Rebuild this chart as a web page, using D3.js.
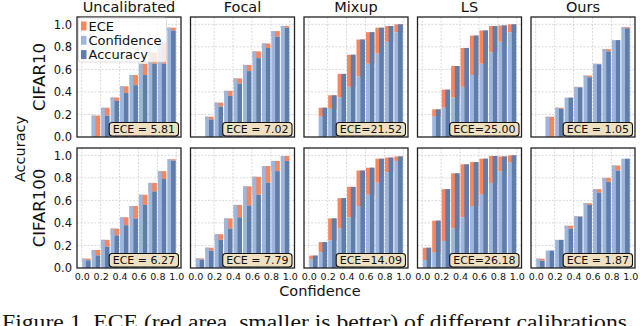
<!DOCTYPE html>
<html>
<head>
<meta charset="utf-8">
<script src="https://cdn.jsdelivr.net/npm/d3@7"></script>
<style>
  body { margin: 0; background: #fff; }
  svg { display: block; font-family: "DejaVu Sans", sans-serif; }
</style>
</head>
<body>
<svg id="chart" width="640" height="326"></svg>
<script>
// column titles and row labels
const methods = ['Uncalibrated', 'Focal', 'Mixup', 'LS', 'Ours'];
const datasets = ['CIFAR10', 'CIFAR100'];
// lower edge of each confidence bin
const bins = [0.0, 0.1, 0.2, 0.3, 0.4, 0.5, 0.6, 0.7, 0.8, 0.9];
const ticks = [0.0, 0.2, 0.4, 0.6, 0.8, 1.0];

// CIFAR10: per method, avg confidence and accuracy per bin (null = empty bin)
const c10Conf = [
  [null, 0.19, 0.26, 0.35, 0.45, 0.55, 0.65, 0.75, 0.84, 0.97],
  [null, 0.18, 0.305, 0.41, 0.52, 0.64, 0.76, 0.83, 0.94, 0.985],
  [null, 0.18, 0.25, 0.35, 0.445, 0.54, 0.65, 0.74, 0.845, 0.93],
  [null, 0.18, 0.26, 0.35, 0.445, 0.55, 0.65, 0.75, 0.845, 0.93],
  [null, 0.18, 0.26, 0.35, 0.445, 0.545, 0.65, 0.78, 0.86, 0.975]
];
const c10Acc = [
  [null, 0.0, 0.19, 0.32, 0.39, 0.46, 0.55, 0.65, 0.65, 0.945],
  [null, 0.155, 0.27, 0.365, 0.475, 0.585, 0.70, 0.79, 0.89, 0.97],
  [null, 0.26, 0.37, 0.56, 0.73, 0.865, 0.93, 0.97, 0.985, 1.0],
  [null, 0.245, 0.42, 0.63, 0.79, 0.90, 0.945, 0.985, 0.99, 1.0],
  [null, 0.0, 0.25, 0.35, 0.44, 0.53, 0.645, 0.76, 0.86, 0.965]
];
// CIFAR100
const c100Conf = [
  [0.083, 0.16, 0.25, 0.35, 0.45, 0.55, 0.65, 0.755, 0.86, 0.965],
  [0.085, 0.18, 0.30, 0.44, 0.56, 0.725, 0.81, 0.905, 0.95, 0.994],
  [0.08, 0.14, 0.245, 0.35, 0.45, 0.55, 0.65, 0.757, 0.85, 0.95],
  [0.07, 0.135, 0.24, 0.35, 0.45, 0.55, 0.65, 0.755, 0.86, 0.935],
  [0.083, 0.155, 0.25, 0.375, 0.46, 0.575, 0.70, 0.80, 0.91, 0.97]
];
const c100Acc = [
  [0.068, 0.112, 0.19, 0.29, 0.38, 0.44, 0.56, 0.68, 0.79, 0.953],
  [0.075, 0.155, 0.25, 0.35, 0.45, 0.555, 0.65, 0.757, 0.86, 0.95],
  [0.11, 0.23, 0.44, 0.62, 0.72, 0.865, 0.89, 0.97, 0.98, 0.99],
  [0.18, 0.42, 0.70, 0.84, 0.92, 0.94, 0.97, 0.994, 0.99, 1.0],
  [0.065, 0.155, 0.25, 0.35, 0.455, 0.56, 0.67, 0.765, 0.865, 0.97]
];
const c10Ece = ['ECE = 5.81', 'ECE = 7.02', 'ECE=21.52', 'ECE=25.00', 'ECE = 1.05'];
const c100Ece = ['ECE = 6.27', 'ECE = 7.79', 'ECE=14.09', 'ECE=26.18', 'ECE = 1.87'];

const legendItems = ['ECE', 'Confidence', 'Accuracy'];
const caption = 'Figure 1. ECE (red area, smaller is better) of different calibrations';

const colors = {gap: '#f4875f', conf: '#9db6dd', acc: '#5f7dab'};

const svg = d3.select('#chart');

const pw = 104,
  ph = 120,
  left0 = 77,
  top0 = 17,
  colStep = 113.5,
  rowStep = 131;

const x = d3.scaleLinear().domain([-0.05, 1.05]).range([0, pw]);
const y = d3.scaleLinear().domain([0, 1.065]).range([ph, 0]);

const confRows = [c10Conf, c100Conf],
  accRows = [c10Acc, c100Acc],
  eceRows = [c10Ece, c100Ece];

datasets.forEach((ds, r) => {
  methods.forEach((m, c) => {
    const g = svg.append('g')
      .attr('transform', `translate(${left0 + c * colStep},${top0 + r * rowStep})`);
    drawPanel(g, confRows[r][c], accRows[r][c], eceRows[r][c], r, c);
  });
});

function drawPanel(g, conf, acc, eceText, r, c) {
  // grid
  g.selectAll('.gx').data(ticks).enter().append('line')
    .attr('x1', d => x(d)).attr('x2', d => x(d))
    .attr('y1', 0).attr('y2', ph)
    .attr('stroke', '#cfcfcf').attr('stroke-width', 0.8)
    .attr('stroke-dasharray', '2,1.5');
  g.selectAll('.gy').data(ticks.slice(1)).enter().append('line')
    .attr('x1', 0).attr('x2', pw)
    .attr('y1', d => y(d)).attr('y2', d => y(d))
    .attr('stroke', '#cfcfcf').attr('stroke-width', 0.8)
    .attr('stroke-dasharray', '2,1.5');

  const data = bins.map((b, i) => ({b, conf: conf[i], acc: acc[i]}))
    .filter(d => d.conf !== null);

  const bx0 = d => x(d.b) + 0.5,
    bx1 = d => x(d.b + 0.1) - 0.5,
    split = d => bx0(d) + 0.44 * (bx1(d) - bx0(d));

  const bar = g.selectAll('.bin').data(data).enter().append('g');

  // gap between confidence and accuracy, full bin width, underneath
  bar.append('rect')
    .attr('x', bx0)
    .attr('width', d => bx1(d) - bx0(d))
    .attr('y', d => y(Math.max(d.conf, d.acc)))
    .attr('height', d => y(Math.min(d.conf, d.acc)) - y(Math.max(d.conf, d.acc)))
    .attr('fill', colors.gap);

  bar.append('rect')
    .attr('x', bx0)
    .attr('width', d => split(d) - bx0(d))
    .attr('y', d => y(d.conf))
    .attr('height', d => y(0) - y(d.conf))
    .attr('fill', colors.conf);

  bar.append('rect')
    .attr('x', split)
    .attr('width', d => bx1(d) - split(d))
    .attr('y', d => y(d.acc))
    .attr('height', d => y(0) - y(d.acc))
    .attr('fill', colors.acc);

  // frame
  g.append('rect')
    .attr('width', pw).attr('height', ph)
    .attr('fill', 'none').attr('stroke', '#222').attr('stroke-width', 1.3);

  // y tick labels on first column
  if (c === 0) {
    g.append('g')
      .call(d3.axisLeft(y).tickValues(ticks).tickFormat(d3.format('.1f')).tickSize(0).tickPadding(5))
      .call(a => a.select('.domain').remove())
      .selectAll('text')
      .attr('font-family', 'DejaVu Sans').attr('font-size', 11.5).attr('fill', '#111');

    g.append('text')
      .attr('transform', `translate(-32,${ph / 2}) rotate(-90)`)
      .attr('text-anchor', 'middle')
      .attr('font-size', 16.5).attr('fill', '#111')
      .text(datasets[r]);
  }

  // x tick labels on bottom row
  if (r === datasets.length - 1) {
    g.append('g')
      .attr('transform', `translate(0,${ph})`)
      .call(d3.axisBottom(x).tickValues(ticks).tickFormat(d3.format('.1f')).tickSize(0).tickPadding(5))
      .call(a => a.select('.domain').remove())
      .selectAll('text')
      .attr('font-family', 'DejaVu Sans').attr('font-size', 9.5).attr('fill', '#111');
  }

  // column title
  if (r === 0) {
    svg.append('text')
      .attr('x', left0 + c * colStep + pw / 2)
      .attr('y', 11.5)
      .attr('text-anchor', 'middle')
      .attr('font-size', 14.5).attr('fill', '#111')
      .text(methods[c]);
  }

  // ECE box
  const box = g.append('g');
  const rect = box.append('rect');
  const t = box.append('text')
    .attr('x', pw - 6).attr('y', ph - 7.3)
    .attr('text-anchor', 'end')
    .attr('dominant-baseline', 'central')
    .attr('font-size', 11).attr('fill', '#111')
    .text(eceText);
  const tw = t.node().getComputedTextLength();
  rect.attr('x', pw - 6 - tw - 3.5).attr('y', ph - 14.5)
    .attr('width', tw + 7).attr('height', 13.5)
    .attr('rx', 3)
    .attr('fill', '#efe0c1').attr('stroke', '#111').attr('stroke-width', 1.1);

  if (r === 0 && c === 0) drawLegend(g);
}

function drawLegend(g) {
  const lg = g.append('g').attr('transform', 'translate(1.5,1)');
  lg.append('rect')
    .attr('width', 88).attr('height', 44)
    .attr('rx', 2)
    .attr('fill', '#fff').attr('fill-opacity', 0.8)
    .attr('stroke', '#d6d6d6').attr('stroke-width', 0.8);

  const fills = [colors.gap, colors.conf, colors.acc];
  const item = lg.selectAll('.item').data(legendItems).enter().append('g')
    .attr('transform', (d, i) => `translate(0,${8 + i * 14.3})`);
  item.append('rect')
    .attr('x', 2.5).attr('y', -4.5)
    .attr('width', 5.5).attr('height', 9)
    .attr('fill', (d, i) => fills[i]);
  item.append('text')
    .attr('x', 10)
    .attr('dominant-baseline', 'central')
    .attr('font-size', 13).attr('fill', '#111')
    .text(d => d);
}

// shared axis labels
svg.append('text')
  .attr('x', 320).attr('y', 296)
  .attr('text-anchor', 'middle')
  .attr('font-size', 14.5).attr('fill', '#111')
  .text('Confidence');

svg.append('text')
  .attr('transform', 'translate(24.5,149) rotate(-90)')
  .attr('text-anchor', 'middle')
  .attr('font-size', 14.5).attr('fill', '#111')
  .text('Accuracy');

svg.append('text')
  .attr('x', 2).attr('y', 329)
  .attr('font-family', '"Liberation Serif", serif')
  .attr('font-size', 20).attr('fill', '#111')
  .attr('textLength', 625).attr('lengthAdjust', 'spacingAndGlyphs')
  .text(caption);
</script>
</body>
</html>
